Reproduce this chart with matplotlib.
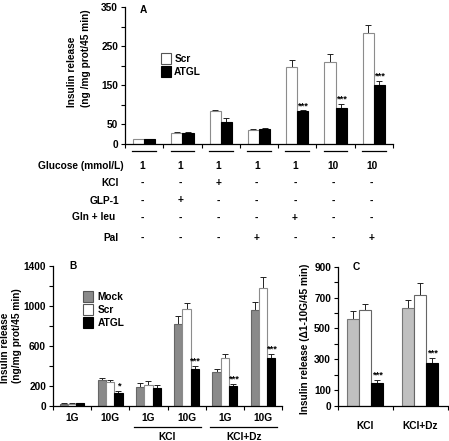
import matplotlib
matplotlib.use("Agg")
import matplotlib.pyplot as plt
import matplotlib.transforms as mtransforms
import numpy as np

plt.rcParams['font.family'] = ['Liberation Sans', 'DejaVu Sans']
plt.rcParams['font.weight'] = 'bold'

# ---------------- data ----------------
# Panel A
a_scr = [12, 29, 84, 37, 197, 210, 284]
a_scr_err = [2, 3, 2, 2, 19, 21, 21]
a_atgl = [12, 28, 56, 39, 84, 92, 151]
a_atgl_err = [2, 2, 11, 2, 2, 10, 11]
a_stars = ['', '', '', '', '***', '***', '***']
a_glucose = ['1', '1', '1', '1', '1', '10', '10']
a_rows = ['KCl', 'GLP-1', 'Gln + leu', 'Pal']
a_kcl = ['-', '-', '+', '-', '-', '-', '-']
a_glp1 = ['-', '+', '-', '-', '-', '-', '-']
a_glnleu = ['-', '-', '-', '-', '+', '-', '-']
a_pal = ['-', '-', '-', '+', '-', '-', '+']

# Panel B
b_groups = ['1G', '10G', '1G', '10G', '1G', '10G']
b_mock = [20, 253, 187, 817, 333, 957]
b_mock_err = [3, 23, 36, 77, 33, 77]
b_scr = [20, 233, 210, 963, 473, 1173]
b_scr_err = [3, 20, 37, 60, 43, 117]
b_atgl = [25, 130, 177, 363, 200, 473]
b_atgl_err = [4, 13, 27, 37, 17, 43]
b_stars = ['', '*', '', '***', '***', '***']

# Panel C
c_groups = ['KCl', 'KCl+Dz']
c_mock = [561, 631]
c_mock_err = [50, 55]
c_scr = [620, 716]
c_scr_err = [40, 79]
c_atgl = [146, 277]
c_atgl_err = [22, 31]
c_stars = ['***', '***']

# ---------------- layout helpers ----------------
W, H = 449, 441
fig = plt.figure(figsize=(W / 100, H / 100), dpi=100)

def fx(px):
    return px / W

def fy(py):
    return 1 - py / H

def make_ax(left, right, top, bottom):
    return fig.add_axes([fx(left), fy(bottom), (right - left) / W, (bottom - top) / H])

FS = 7.3
SFS = 6.8
ERR_KW = dict(fmt='none', ecolor='#222222', elinewidth=0.7, capsize=2, capthick=0.7)

def style_ax(ax, ymax, ymajor, ylabels, ngroups):
    for s in ['top', 'right']:
        ax.spines[s].set_visible(False)
    for s in ['left', 'bottom']:
        ax.spines[s].set_linewidth(0.9)
    ax.set_ylim(0, ymax)
    ax.set_xlim(-0.5, ngroups - 0.5)
    ax.set_yticks(ymajor)
    ax.set_yticklabels([str(v) if v in ylabels else '' for v in ymajor], fontsize=FS, fontweight='bold')
    ax.set_xticks(np.arange(ngroups + 1) - 0.5)
    ax.set_xticklabels([])
    ax.tick_params(axis='both', direction='out', length=3, width=0.8, pad=2)

def draw_bars(ax, series, errs, colors, edges, width, offsets):
    x = np.arange(len(series[0]))
    for vals, err, fc, ec, off in zip(series, errs, colors, edges, offsets):
        ax.bar(x + off, vals, width=width, color=fc, edgecolor=ec, linewidth=0.8, zorder=2)
        ax.errorbar(x + off, vals, yerr=[np.zeros(len(vals)), err], zorder=1, **ERR_KW)
    return x

# ================= Panel A =================
axA = make_ax(125, 393, 7.5, 144)
style_ax(axA, 350, list(range(0, 351, 50)), [0, 50, 150, 250, 350], 7)
wA = 0.29
xA = draw_bars(axA, [a_scr, a_atgl], [a_scr_err, a_atgl_err],
               ['white', 'black'], ['#8c8c8c', 'black'], wA, [-wA / 2, wA / 2])
for i, s in enumerate(a_stars):
    if s:
        axA.text(xA[i] + wA / 2, a_atgl[i] + a_atgl_err[i] + 1, s, ha='center', va='bottom',
                 fontsize=SFS, fontweight='bold')
axA.text(0.055, 0.985, 'A', transform=axA.transAxes, ha='left', va='center', fontsize=FS, fontweight='bold')

legA = [plt.Rectangle((0, 0), 1, 1, fc='white', ec='#555555', lw=0.8),
        plt.Rectangle((0, 0), 1, 1, fc='black', ec='black', lw=0.8)]
fig.legend(legA, ['Scr', 'ATGL'], loc='upper left', bbox_to_anchor=(fx(156), fy(48)),
           frameon=False, handlelength=1.0, handleheight=1.3,
           handletextpad=0.3, labelspacing=0.15, borderpad=0, prop={'weight': 'bold', 'size': FS})

trA = mtransforms.blended_transform_factory(axA.transData, fig.transFigure)
for i in range(7):
    axA.plot([xA[i] - 0.31, xA[i] + 0.31], [fy(151), fy(151)], transform=trA,
             color='black', lw=0.9, clip_on=False)

fig.text(fx(124), fy(166), 'Glucose (mmol/L)', ha='right', va='center', fontsize=FS, fontweight='bold')
for i, v in enumerate(a_glucose):
    fig.text(xA[i] - 0.06, fy(166), v, transform=trA, ha='center', va='center', fontsize=FS, fontweight='bold')
row_y = [183, 200.5, 217.5, 238]
row_right = [119, 119, 115, 119]
for name, vals, ypx, rx in zip(a_rows, [a_kcl, a_glp1, a_glnleu, a_pal], row_y, row_right):
    fig.text(fx(rx), fy(ypx), name, ha='right', va='center', fontsize=FS, fontweight='bold')
    for i, v in enumerate(vals):
        fig.text(xA[i] - 0.06, fy(ypx), v, transform=trA, ha='center', va='center',
                 fontsize=FS, fontweight='bold')

fig.text(fx(72), fy(107), 'Insulin release', rotation=90, ha='center', va='bottom', fontsize=FS, fontweight='bold')
fig.text(fx(86), fy(107), '(ng /mg prot/45 min)', rotation=90, ha='center', va='bottom', fontsize=FS, fontweight='bold')

# ================= Panel B =================
axB = make_ax(53, 282, 265.7, 405.7)
style_ax(axB, 1400, list(range(0, 1401, 200)), [0, 200, 600, 1000, 1400], 6)
wB = 0.215
xB = draw_bars(axB, [b_mock, b_scr, b_atgl], [b_mock_err, b_scr_err, b_atgl_err],
               ['#8a8a8a', 'white', 'black'], ['#666666', '#8c8c8c', 'black'], wB, [-wB, 0, wB])
for i, s in enumerate(b_stars):
    if s:
        axB.text(xB[i] + wB, b_atgl[i] + b_atgl_err[i] + 5, s, ha='center', va='bottom',
                 fontsize=SFS, fontweight='bold')
axB.text(0.07, 0.995, 'B', transform=axB.transAxes, ha='left', va='center', fontsize=FS, fontweight='bold')

legB = [plt.Rectangle((0, 0), 1, 1, fc='#8a8a8a', ec='#555555', lw=0.8),
        plt.Rectangle((0, 0), 1, 1, fc='white', ec='#555555', lw=0.8),
        plt.Rectangle((0, 0), 1, 1, fc='black', ec='black', lw=0.8)]
fig.legend(legB, ['Mock', 'Scr', 'ATGL'], loc='upper left', bbox_to_anchor=(fx(78), fy(286)),
           frameon=False, handlelength=1.0, handleheight=1.3,
           handletextpad=0.4, labelspacing=0.2, borderpad=0, prop={'weight': 'bold', 'size': FS})

trB = mtransforms.blended_transform_factory(axB.transData, fig.transFigure)
for i, g in enumerate(b_groups):
    fig.text(xB[i], fy(418), g, transform=trB, ha='center', va='center', fontsize=FS, fontweight='bold')
for c, name in [(2.5, 'KCl'), (4.5, 'KCl+Dz')]:
    axB.plot([c - 0.88, c + 0.88], [fy(426.7), fy(426.7)], transform=trB,
             color='black', lw=0.9, clip_on=False)
    fig.text(c, fy(437), name, transform=trB, ha='center', va='center', fontsize=FS, fontweight='bold')

fig.text(fx(5), fy(383), 'Insulin release', rotation=90, ha='center', va='bottom', fontsize=FS, fontweight='bold')
fig.text(fx(17), fy(383), '(ng/mg prot/45 min)', rotation=90, ha='center', va='bottom', fontsize=FS, fontweight='bold')

# ================= Panel C =================
axC = make_ax(338, 447.5, 266.7, 405.7)
style_ax(axC, 900, list(range(0, 901, 100)), [0, 100, 300, 500, 700, 900], 2)
wC = 0.22
xC = draw_bars(axC, [c_mock, c_scr, c_atgl], [c_mock_err, c_scr_err, c_atgl_err],
               ['#c0c0c0', 'white', 'black'], ['#777777', '#666666', 'black'], wC, [-wC, 0, wC])
for i, s in enumerate(c_stars):
    if s:
        axC.text(xC[i] + wC, c_atgl[i] + c_atgl_err[i] + 3, s, ha='center', va='bottom',
                 fontsize=SFS, fontweight='bold')
axC.text(0.13, 0.995, 'C', transform=axC.transAxes, ha='left', va='center', fontsize=FS, fontweight='bold')

trC = mtransforms.blended_transform_factory(axC.transData, fig.transFigure)
for i, g in enumerate(c_groups):
    fig.text(xC[i], fy(426), g, transform=trC, ha='center', va='center', fontsize=FS, fontweight='bold')

fig.text(fx(305), fy(339), 'Insulin release (\u03941-10G/45 min)', rotation=90, ha='center', va='center',
         fontsize=FS, fontweight='bold')

fig.savefig('out.png', dpi=100)
